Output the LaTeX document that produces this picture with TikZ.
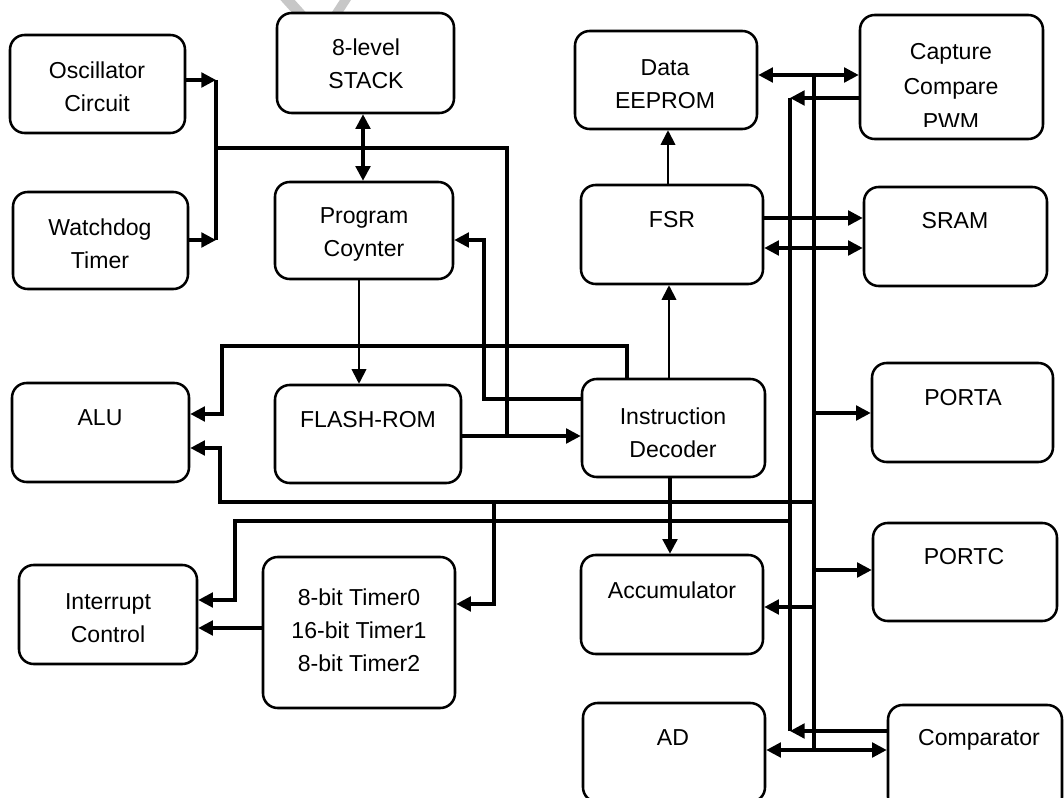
\documentclass[tikz,border=0pt]{standalone}
\usepackage{fontspec}
\setmainfont{Liberation Sans}
\usetikzlibrary{arrows.meta,fit}

\tikzset{
  blk/.style={draw, fill=white, line width=1.9pt, rounded corners=11pt, inner sep=0pt},
  lbl/.style={align=center, inner sep=0pt, font=\fontsize{17.3}{24.75}\selectfont},
  wire/.style={line width=2.4pt},
  thinwire/.style={line width=1.4pt},
  arr/.style={-{Triangle[length=11pt,width=11pt]}},
  darr/.style={{Triangle[length=11pt,width=11pt]}-{Triangle[length=11pt,width=11pt]}},
}

% block: name, x1, y1, x2, y2 (pixel grid, y pointing down)
\newcommand{\mkblock}[5]{%
  \node[blk, fit={(#2,#3) (#4,#5)}] (#1) {};}

\begin{document}
\begin{tikzpicture}[x=0.75pt, y=-0.75pt]
\useasboundingbox (0,0) rectangle (1064,798);
\clip (0,0) rectangle (1064,798);
\fill[white] (0,0) rectangle (1064,798);

% faint mark behind the stack block
\draw[line width=8pt, black!22] (284,-4) -- (302,16);
\draw[line width=7pt, black!22] (348,-4) -- (335,16);

% blocks
\mkblock{osc}{10}{35}{185}{133}
\mkblock{wdt}{13}{192}{188}{289}
\mkblock{stack}{277}{13}{454}{113}
\mkblock{pc}{275}{182}{453}{279}
\mkblock{eeprom}{575}{31}{757}{129}
\mkblock{ccp}{860}{15}{1043}{139}
\mkblock{fsr}{581}{185}{763}{284}
\mkblock{sram}{864}{187}{1047}{286}
\mkblock{alu}{12}{383}{189}{482}
\mkblock{flash}{275}{385}{461}{483}
\mkblock{idec}{582}{379}{765}{477}
\mkblock{porta}{872}{363}{1053}{462}
\mkblock{portc}{873}{523}{1057}{621}
\mkblock{intc}{19}{565}{197}{664}
\mkblock{tmr}{263}{557}{455}{708}
\mkblock{acc}{581}{555}{763}{654}
\mkblock{ad}{583}{703}{765}{802}
\mkblock{comp}{888}{705}{1062}{812}

% labels
\node[lbl] (osc-t) at (97,87) {Oscillator\\Circuit};
\node[lbl] (wdt-t) at (100,244) {Watchdog\\Timer};
\node[lbl] (stack-t) at (366,64) {8-level\\STACK};
\node[lbl] (pc-t) at (364,234) {Program\\Coynter};
\node[lbl] (eeprom-t) at (665,84) {Data\\EEPROM};
\begin{scope}
  % the third line runs past the lower text margin of the block
  \clip (860,15) rectangle (1043,126.5);
  \node[lbl, font=\fontsize{17.3}{26.25}\selectfont] (ccp-t) at (951,86) {Capture\\Compare\\PWM};
\end{scope}
\node[lbl] (fsr-t) at (672,220) {FSR};
\node[lbl] (sram-t) at (955,221) {SRAM};
\node[lbl] (alu-t) at (100,418) {ALU};
\node[lbl] (flash-t) at (368,420) {FLASH-ROM};
\node[lbl] (idec-t) at (673,433) {Instruction\\Decoder};
\node[lbl] (porta-t) at (963,398) {PORTA};
\node[lbl] (portc-t) at (964,557) {PORTC};
\node[lbl] (intc-t) at (108,618) {Interrupt\\Control};
\node[lbl] (tmr-t) at (359,630) {8-bit Timer0\\16-bit Timer1\\8-bit Timer2};
\node[lbl] (acc-t) at (672,590) {Accumulator};
\node[lbl] (ad-t) at (673,738) {AD};
\node[lbl] (comp-t) at (979,740) {Comparator};

% junction points of the shared lines
\coordinate (clkT) at (216,80);
\coordinate (clkB) at (216,240);
\coordinate (clkM) at (216,148);
\coordinate (clkR) at (507,148);
\coordinate (clkD) at (507,436);
\coordinate (busRT) at (814,75);
\coordinate (busRB) at (814,750);
\coordinate (busLT) at (790,98);
\coordinate (busLB) at (790,731);

% clock sources
\draw[wire,arr] (osc.east |- clkT) -- (clkT);
\draw[wire,arr] (wdt.east |- clkB) -- (clkB);
\draw[wire] (clkT) -- (clkB);
\draw[wire] (clkM) -- (clkR) -- (clkD);

% program path
\draw[wire,darr] (stack.south -| 363,0) -- (pc.north -| 363,0);
\draw[thinwire,arr] (pc.south -| 359,0) -- (flash.north -| 359,0);
\draw[wire,arr] (flash.east |- clkD) -- (idec.west |- clkD);
\draw[wire,arr] (idec.west |- 0,399) -- (484,399) -- (484,240) -- (pc.east |- 0,240);
\draw[wire,arr] (idec.north -| 627,0) -- (627,346) -- (222,346) -- (222,414) -- (alu.east |- 0,414);
\draw[thinwire,arr] (idec.north -| 669,0) -- (fsr.south -| 669,0);
\draw[thinwire,arr] (fsr.north -| 668,0) -- (eeprom.south -| 668,0);
\draw[wire,arr] (idec.south -| 670,0) -- (acc.north -| 670,0);

% data buses
\draw[wire] (busRT) -- (busRB);
\draw[wire,darr] (eeprom.east |- busRT) -- (ccp.west |- busRT);
\draw[wire,arr] (ccp.west |- busLT) -- (busLT);
\draw[wire] (busLT) -- (busLB);
\draw[wire,arr] (comp.west |- busLB) -- (busLB);
\draw[wire,darr] (ad.east |- busRB) -- (comp.west |- busRB);
\draw[wire,arr] (fsr.east |- 0,218) -- (sram.west |- 0,218);
\draw[wire,darr] (fsr.east |- 0,248) -- (sram.west |- 0,248);
\draw[wire,arr] (814,413) -- (porta.west |- 0,413);
\draw[wire,arr] (814,570) -- (portc.west |- 0,570);
\draw[wire,arr] (814,607) -- (acc.east |- 0,607);
\draw[wire,arr] (814,502) -- (220,502) -- (220,448) -- (alu.east |- 0,448);
\draw[wire,arr] (790,521) -- (235,521) -- (235,600) -- (intc.east |- 0,600);
\draw[wire,arr] (494,502) -- (494,604) -- (tmr.east |- 0,604);
\draw[wire,arr] (tmr.west |- 0,628) -- (intc.east |- 0,628);
\end{tikzpicture}
\end{document}
